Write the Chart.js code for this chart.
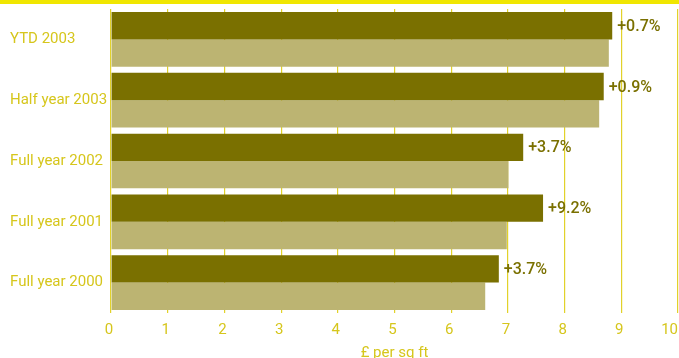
<!DOCTYPE html>
<html>
<head>
<meta charset="utf-8">
<script src="https://cdn.jsdelivr.net/npm/chart.js@4/dist/chart.umd.min.js"></script>
<style>
  html, body { margin: 0; padding: 0; background: #ffffff; overflow: hidden; }
</style>
</head>
<body>
<canvas id="rentChart" width="679" height="358"></canvas>
<script>
// Rental values, £ per sq ft
const periods = ['YTD 2003', 'Half year 2003', 'Full year 2002', 'Full year 2001', 'Full year 2000'];
const currentRent = [8.84, 8.69, 7.27, 7.62, 6.84];
const previousRent = [8.78, 8.61, 7.01, 6.98, 6.60];
const growthLabels = ['+0.7%', '+0.9%', '+3.7%', '+9.2%', '+3.7%'];
const xTickValues = [0, 1, 2, 3, 4, 5, 6, 7, 8, 9, 10];
const xAxisTitle = '£ per sq ft';

const YELLOW_TEXT = '#d6c61c';
const GRID_YELLOW = '#e2d22a';
const DARK_OLIVE = '#7a7000';
const LIGHT_OLIVE = '#bcb472';

// Header band, x-axis tick labels (kept inside the canvas edge), axis title and growth labels
const decorations = {
  id: 'decorations',
  beforeDraw(chart) {
    const ctx = chart.ctx;
    ctx.save();
    ctx.fillStyle = '#f0e600';
    ctx.fillRect(0, 0, chart.width, 4);
    ctx.restore();
  },
  afterDraw(chart) {
    const ctx = chart.ctx;
    const xs = chart.scales.x;
    ctx.save();
    ctx.font = '15px Roboto, sans-serif';
    ctx.fillStyle = YELLOW_TEXT;
    ctx.textBaseline = 'middle';
    ctx.textAlign = 'center';
    xTickValues.forEach(v => {
      const label = String(v);
      const w = ctx.measureText(label).width;
      let cx = xs.getPixelForValue(v) - 2;
      cx = Math.min(cx, chart.width - w / 2 - 1);
      ctx.fillText(label, cx, 330);
    });
    ctx.fillText(xAxisTitle, (chart.chartArea.left + chart.chartArea.right) / 2, 353);

    const meta = chart.getDatasetMeta(0);
    ctx.font = '500 16px Roboto, sans-serif';
    ctx.fillStyle = DARK_OLIVE;
    ctx.textAlign = 'left';
    meta.data.forEach((bar, i) => {
      ctx.fillText(growthLabels[i], bar.x + 5, bar.y + 1);
    });
    ctx.restore();
  }
};

new Chart(document.getElementById('rentChart'), {
  type: 'bar',
  data: {
    labels: periods,
    datasets: [
      { data: currentRent, backgroundColor: DARK_OLIVE, borderWidth: 0 },
      { data: previousRent, backgroundColor: LIGHT_OLIVE, borderWidth: 0 }
    ]
  },
  options: {
    indexAxis: 'y',
    responsive: false,
    devicePixelRatio: 1,
    animation: false,
    events: [],
    datasets: { bar: { categoryPercentage: 0.9, barPercentage: 1.0 } },
    layout: { padding: { left: 10, right: 1, top: 7, bottom: 45 } },
    plugins: { legend: { display: false }, tooltip: { enabled: false }, title: { display: false } },
    scales: {
      x: {
        min: 0,
        max: 10,
        ticks: { display: false, stepSize: 1 },
        grid: { color: GRID_YELLOW, lineWidth: 1.2, drawTicks: false },
        border: { display: false }
      },
      y: {
        afterFit(scale) { scale.width = 101; },
        ticks: {
          crossAlign: 'far',
          color: YELLOW_TEXT,
          font: { family: 'Roboto, sans-serif', size: 15 },
          padding: 0
        },
        grid: { display: false, drawTicks: false },
        border: { display: false }
      }
    }
  },
  plugins: [decorations]
});
</script>
</body>
</html>
